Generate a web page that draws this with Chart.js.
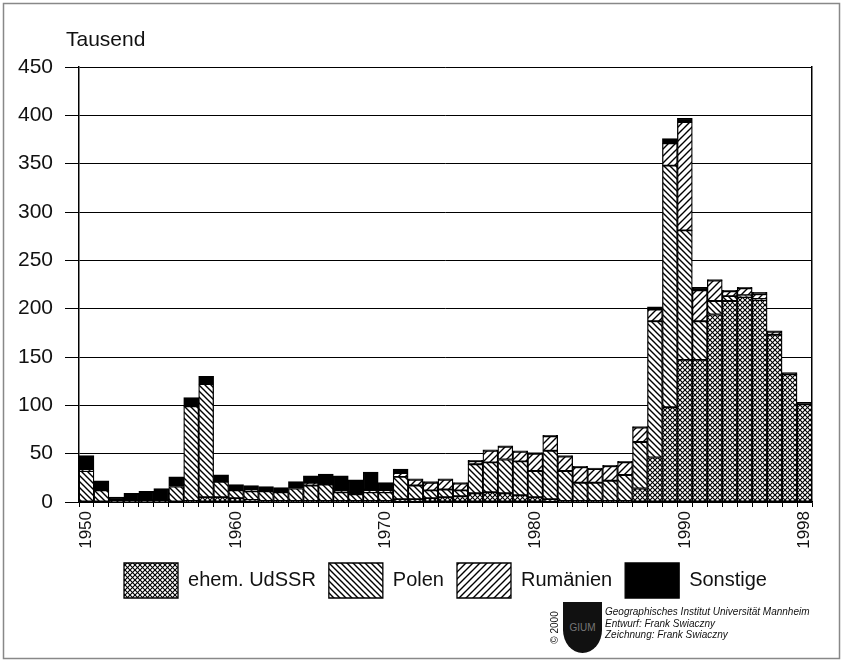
<!DOCTYPE html>
<html>
<head>
<meta charset="utf-8">
<script src="https://cdn.jsdelivr.net/npm/chart.js@4.4.1/dist/chart.umd.min.js"></script>
<style>
  html, body { margin: 0; padding: 0; background: #fff; }
  #wrap { position: relative; width: 842px; height: 661px; font-family: "Liberation Sans", Arial, sans-serif; }
  #myChart { position: absolute; left: 0; top: 0; }
  .unit { position: absolute; left: 66px; top: 27px; font-size: 21px; color: #111; }
  .copy { position: absolute; left: 529px; top: 622px; width: 50px; font-size: 10px; transform: rotate(-90deg); text-align: center; color: #111; }
  .shield { position: absolute; left: 563px; top: 602px; width: 39px; height: 51px; background: #111; border-radius: 0 0 50% 50% / 0 0 45% 45%; color: #777; font-size: 10px; text-align: center; line-height: 51px; }
  .credits { position: absolute; left: 605px; top: 606px; font-size: 10px; line-height: 11.5px; font-style: italic; color: #111; white-space: nowrap; }
</style>
</head>
<body>
<div id="wrap">
  <canvas id="myChart" width="842" height="661"></canvas>
  <div class="unit">Tausend</div>
  <div class="copy">© 2000</div>
  <div class="shield">GIUM</div>
  <div class="credits">Geographisches Institut Universität Mannheim<br>Entwurf: Frank Swiaczny<br>Zeichnung: Frank Swiaczny</div>
</div>
<script>
const FONT = '"Liberation Sans", Arial, sans-serif';

// Jahre 1950-1998
const years = [
  1950, 1951, 1952, 1953, 1954, 1955, 1956, 1957, 1958, 1959,
  1960, 1961, 1962, 1963, 1964, 1965, 1966, 1967, 1968, 1969,
  1970, 1971, 1972, 1973, 1974, 1975, 1976, 1977, 1978, 1979,
  1980, 1981, 1982, 1983, 1984, 1985, 1986, 1987, 1988, 1989,
  1990, 1991, 1992, 1993, 1994, 1995, 1996, 1997, 1998
];
const shownYears = [1950, 1960, 1970, 1980, 1990, 1998];

// Werte in Tausend
const udssr = [
  0, 0, 0, 0, 0, 0, 0, 1, 5, 5,
  4, 2, 1, 1, 1, 1, 1, 1, 1, 1,
  1, 3, 3, 4, 5, 6, 9, 10, 9, 7,
  5, 3, 1, 1, 1, 1, 1, 14, 46, 98,
  147, 147, 194, 208, 212, 209, 173, 132, 101
];
const polen = [
  32, 12, 1, 1, 1, 1, 16, 98, 117, 16,
  8, 9, 10, 9, 13, 16, 17, 9, 7, 9,
  9, 23, 14, 8, 8, 6, 30, 31, 35, 35,
  27, 50, 31, 19, 19, 21, 27, 48, 141, 250,
  134, 40, 14, 5, 2, 1, 0, 0, 0
];
const rumaenien = [
  1, 0, 0, 0, 0, 0, 0, 0, 0, 0,
  0, 1, 0, 0, 0, 3, 0, 1, 0, 2,
  2, 4, 6, 8, 10, 7, 3, 12, 13, 10,
  18, 15, 15, 16, 14, 15, 13, 15, 12, 23,
  112, 32, 21, 5, 7, 5, 3, 0, 0
];
const sonstige = [
  15, 10, 4, 8, 10, 13, 10, 9, 8, 7,
  6, 5, 5, 5, 7, 7, 11, 16, 15, 19,
  8, 4, 1, 1, 1, 1, 1, 1, 1, 1,
  1, 1, 1, 1, 1, 1, 1, 1, 3, 5,
  4, 3, 1, 1, 1, 2, 1, 2, 2
];

// Schraffuren
function makePattern(size, kind, lw) {
  const c = document.createElement("canvas");
  c.width = size;
  c.height = size;
  const g = c.getContext("2d");
  g.fillStyle = "#fff";
  g.fillRect(0, 0, size, size);
  g.strokeStyle = "#000";
  g.lineWidth = lw;
  const down = () => {
    g.beginPath();
    g.moveTo(-1, -1); g.lineTo(size + 1, size + 1);
    g.moveTo(-1, size - 1); g.lineTo(1, size + 1);
    g.moveTo(size - 1, -1); g.lineTo(size + 1, 1);
    g.stroke();
  };
  const up = () => {
    g.beginPath();
    g.moveTo(-1, size + 1); g.lineTo(size + 1, -1);
    g.moveTo(-1, 1); g.lineTo(1, -1);
    g.moveTo(size - 1, size + 1); g.lineTo(size + 1, size - 1);
    g.stroke();
  };
  if (kind === "down" || kind === "cross") down();
  if (kind === "up" || kind === "cross") up();
  return g.createPattern(c, "repeat");
}

const ctx = document.getElementById("myChart");

function dataset(label, data, fill) {
  return {
    label: label,
    data: data,
    backgroundColor: fill,
    borderColor: "#000",
    borderWidth: 1.3,
    borderSkipped: false,
    barPercentage: 1,
    categoryPercentage: 1
  };
}

const framePlugin = {
  id: "frame",
  beforeDraw(chart) {
    const c = chart.ctx;
    c.save();
    c.fillStyle = "#fff";
    c.fillRect(0, 0, chart.width, chart.height);
    c.strokeStyle = "#888";
    c.lineWidth = 1.5;
    c.strokeRect(3.5, 3.5, chart.width - 6, chart.height - 6);
    c.restore();
  }
};

new Chart(ctx, {
  type: "bar",
  data: {
    labels: years,
    datasets: [
      dataset("ehem. UdSSR", udssr, makePattern(5, "cross", 1.1)),
      dataset("Polen", polen, makePattern(6, "down", 1.4)),
      dataset("Rumänien", rumaenien, makePattern(7, "up", 1.4)),
      dataset("Sonstige", sonstige, "#000")
    ]
  },
  plugins: [framePlugin],
  options: {
    responsive: false,
    animation: false,
    layout: { padding: { left: 0, right: 30, top: 67, bottom: 53 } },
    plugins: {
      tooltip: { enabled: false },
      legend: {
        position: "bottom",
        fullSize: false,
        labels: {
          boxWidth: 54,
          boxHeight: 35,
          padding: 13,
          color: "#111",
          font: { family: FONT, size: 20 }
        }
      }
    },
    scales: {
      x: {
        stacked: true,
        offset: true,
        grid: { offset: true, drawOnChartArea: false, drawTicks: true, tickLength: 5, color: "#000", lineWidth: 1 },
        border: { display: true, color: "#000", width: 1.5 },
        ticks: {
          autoSkip: false,
          minRotation: 90,
          maxRotation: 90,
          padding: 4,
          color: "#111",
          font: { family: FONT, size: 17 },
          callback: (val, i) => (shownYears.includes(years[i]) ? String(years[i]) : "")
        },
        afterFit: (scale) => { scale.height = 48; }
      },
      y: {
        stacked: true,
        min: 0,
        max: 450,
        ticks: { stepSize: 50, padding: 12, color: "#111", font: { family: FONT, size: 21 } },
        grid: { color: "#000", lineWidth: 1, tickLength: 14 },
        border: { display: true, color: "#000", width: 1.5 },
        afterFit: (scale) => { scale.width = 79; }
      },
      y2: {
        position: "right",
        min: 0,
        max: 450,
        ticks: { display: false },
        grid: { drawOnChartArea: false, drawTicks: false },
        border: { display: true, color: "#000", width: 1.5 },
        afterFit: (scale) => { scale.width = 0; }
      }
    }
  }
});
</script>
</body>
</html>
